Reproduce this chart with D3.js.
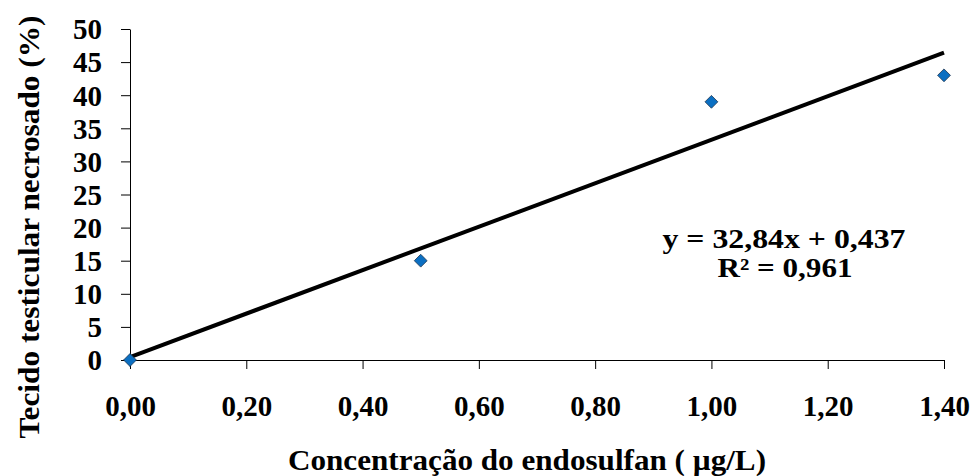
<!DOCTYPE html>
<html>
<head>
<meta charset="utf-8">
<script src="https://cdn.jsdelivr.net/npm/d3@7"></script>
<style>
  body { margin: 0; background: #fff; }
</style>
</head>
<body>
<div id="chart"></div>
<script>
// dados
const concentracoes = [0, 0.5, 1.0, 1.4];
const necrose = [0, 15, 39, 43];
const xTicks = [0, 0.2, 0.4, 0.6, 0.8, 1.0, 1.2, 1.4];
const yTicks = [0, 5, 10, 15, 20, 25, 30, 35, 40, 45, 50];
const slope = 32.84;
const intercept = 0.437;
const eqLabels = ["y = 32,84x + 0,437", "R² = 0,961"];

const width = 975;
const height = 476;
const margin = { left: 130, right: 31, top: 29, bottom: 116 };
const serif = '"Liberation Serif", "Times New Roman", serif';

// estilo comum dos textos
function estilo(sel, size) {
  sel.style("font-family", serif)
    .style("font-weight", "bold")
    .style("font-size", size + "px")
    .style("fill", "#000");
}

const svg = d3.select("#chart")
  .append("svg")
  .attr("width", width)
  .attr("height", height);

// escalas
const x = d3.scaleLinear()
  .domain([0, 1.4])
  .range([margin.left, width - margin.right]);

const y = d3.scaleLinear()
  .domain([0, 50])
  .range([height - margin.bottom, margin.top]);

const fmt = d => d.toFixed(2).replace(".", ",");

// eixo x
const xAxis = svg.append("g")
  .attr("transform", `translate(0,${y(0)})`)
  .call(d3.axisBottom(x).tickValues(xTicks).tickSize(9).tickSizeOuter(0).tickFormat(fmt));
xAxis.select(".domain").attr("stroke", "#000");
xAxis.selectAll(".tick line").attr("stroke", "#000");
xAxis.selectAll(".tick text")
  .call(estilo, 29)
  .attr("y", 56)
  .attr("dy", 0);

// eixo y
const yAxis = svg.append("g")
  .attr("transform", `translate(${x(0)},0)`)
  .call(d3.axisLeft(y).tickValues(yTicks).tickSize(9).tickSizeOuter(0));
yAxis.select(".domain").attr("stroke", "#000");
yAxis.selectAll(".tick line").attr("stroke", "#000");
yAxis.selectAll(".tick text")
  .call(estilo, 29)
  .attr("x", -28)
  .attr("dy", "0.34em");

// linha de tendência
svg.append("line")
  .attr("x1", x(0))
  .attr("y1", y(intercept))
  .attr("x2", x(1.4))
  .attr("y2", y(slope * 1.4 + intercept))
  .attr("stroke", "#000")
  .attr("stroke-width", 4);

// pontos (losangos)
const diamond = d3.symbol().type(d3.symbolDiamond2).size(105);
svg.selectAll(".ponto")
  .data(concentracoes.map((c, i) => ({ c: c, v: necrose[i] })))
  .enter()
  .append("path")
  .attr("class", "ponto")
  .attr("d", diamond)
  .attr("transform", d => `translate(${x(d.c)},${y(d.v)})`)
  .attr("fill", "#0b6fc2")
  .attr("stroke", "#1d3550")
  .attr("stroke-width", 0.8);

// equação (texto esticado como no original)
svg.append("text")
  .attr("x", 784)
  .attr("y", 248)
  .attr("text-anchor", "middle")
  .attr("textLength", 243)
  .attr("lengthAdjust", "spacingAndGlyphs")
  .call(estilo, 27)
  .text(eqLabels[0]);
svg.append("text")
  .attr("x", 785)
  .attr("y", 277)
  .attr("text-anchor", "middle")
  .attr("textLength", 135)
  .attr("lengthAdjust", "spacingAndGlyphs")
  .call(estilo, 27)
  .text(eqLabels[1]);

// títulos dos eixos
svg.append("text")
  .attr("x", 527)
  .attr("y", 470)
  .attr("text-anchor", "middle")
  .attr("textLength", 478)
  .attr("lengthAdjust", "spacingAndGlyphs")
  .call(estilo, 29)
  .text("Concentração do endosulfan ( µg/L)");

svg.append("text")
  .attr("transform", "translate(39,227) rotate(-90)")
  .attr("text-anchor", "middle")
  .attr("textLength", 423)
  .attr("lengthAdjust", "spacingAndGlyphs")
  .call(estilo, 29)
  .text("Tecido testicular necrosado (%)");
</script>
</body>
</html>
